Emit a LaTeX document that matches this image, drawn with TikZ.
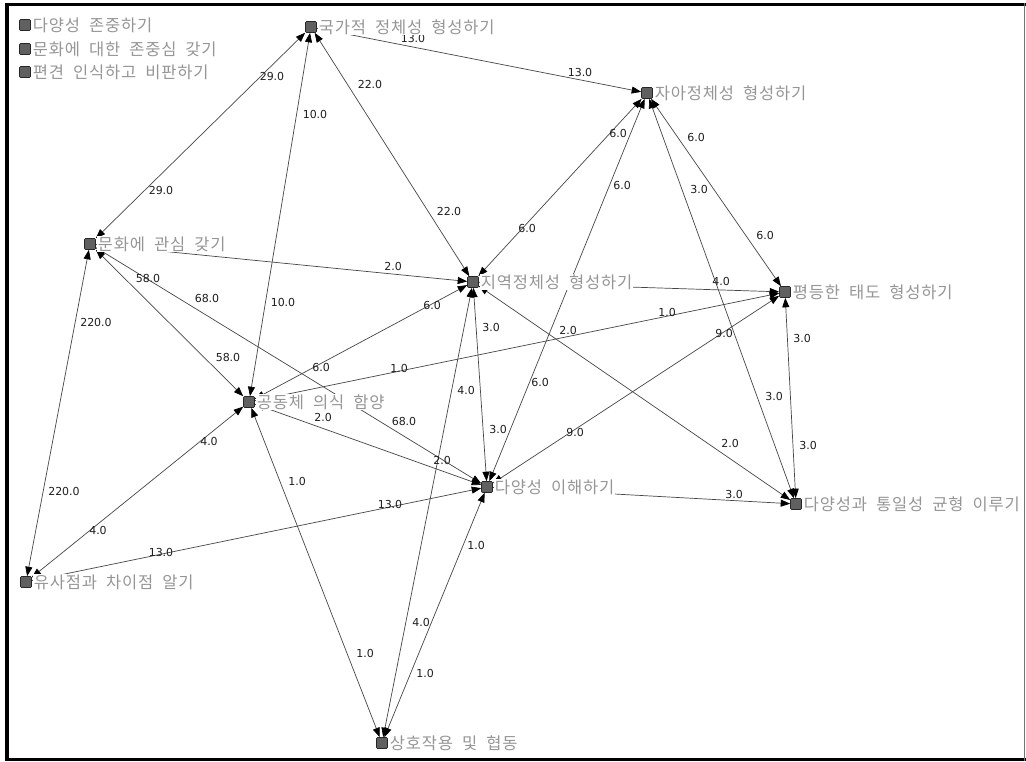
\documentclass[tikz,border=0pt]{standalone}
\usepackage{fontspec}
\usetikzlibrary{arrows.meta}
\newfontfamily\krfont[LetterSpace=5,WordSpace=2]{Noto Sans CJK KR}
\newfontfamily\numfont{DejaVu Sans}
\definecolor{sqgray}{RGB}{96,96,96}
\definecolor{labgray}{RGB}{150,150,150}
\definecolor{edgecol}{RGB}{70,70,70}
\definecolor{elabcol}{RGB}{30,30,30}
\tikzset{
  sq/.style={draw=black!85, fill=sqgray, minimum size=11pt, inner sep=0pt, rounded corners=1pt, line width=0.6pt},
  nlab/.style={font=\krfont\fontsize{16.5}{16.5}\selectfont, text=labgray, fill=white, inner sep=0.6pt, anchor=west, xshift=1.2pt},
  elab/.style={font=\numfont\fontsize{11}{11}\selectfont, text=elabcol, inner sep=0pt},
  link/.style={draw=edgecol, line width=0.7pt, arrows={Triangle[length=9.5pt,width=7pt,color=black]-Triangle[length=9.5pt,width=7pt,color=black]}},
}
\begin{document}
\begin{tikzpicture}[x=1pt,y=-1pt]
\useasboundingbox (0,0) rectangle (1026,761);
\fill[white] (0,0) rectangle (1026,761);
% frame
\fill[black] (5,3) rectangle (9,761);
\fill[black] (5,3) rectangle (1026,5.5);
\fill[black] (5,757.5) rectangle (1026,761);
\fill[black!55] (1023.5,3) rectangle (1025,761);

% nodes (squares)
\node[sq] (nat) at (311,27) {};
\node[sq] (self) at (647,93) {};
\node[sq] (cul) at (90,244) {};
\node[sq] (reg) at (473,282) {};
\node[sq] (eq) at (785,292) {};
\node[sq] (com) at (249,402) {};
\node[sq] (div) at (487,487) {};
\node[sq] (bal) at (796,504) {};
\node[sq] (sim) at (26,582) {};
\node[sq] (inter) at (382,743) {};

% connectors
\draw[link] (cul) -- (nat);
\draw[link] (com) -- (nat);
\draw[link] (nat) -- (reg);
\draw[link] (nat) -- (self);
\draw[link] (reg) -- (self);
\draw[link] (div) -- (self);
\draw[link] (self) -- (eq);
\draw[link] (self) -- (bal);
\draw[link] (cul) -- (reg);
\draw[link] (cul) -- (com);
\draw[link] (cul) -- (div);
\draw[link] (cul) -- (sim);
\draw[link] (com) -- (reg);
\draw[link] (com) -- (eq);
\draw[link] (com) -- (div);
\draw[link] (com) -- (sim);
\draw[link] (com) -- (inter);
\draw[link] (reg) -- (eq);
\draw[link] (reg) -- (div);
\draw[link] (reg) -- (inter);
\draw[link] (reg) -- (bal);
\draw[link] (div) -- (eq);
\draw[link] (div) -- (bal);
\draw[link] (div) -- (sim);
\draw[link] (div) -- (inter);
\draw[link] (eq) -- (bal);

% connector labels
\node[elab] (l1a) at (272,76) {29.0};
\node[elab] (l1b) at (161,190) {29.0};
\node[elab] (l2a) at (315,114) {10.0};
\node[elab] (l2b) at (283,302) {10.0};
\node[elab] (l3a) at (370,84) {22.0};
\node[elab] (l3b) at (449,211) {22.0};
\node[elab] (l4a) at (413,38) {13.0};
\node[elab] (l4b) at (580,72) {13.0};
\node[elab] (l5a) at (618,133) {6.0};
\node[elab] (l5b) at (527,228) {6.0};
\node[elab] (l6a) at (622,185) {6.0};
\node[elab] (l6b) at (540,382) {6.0};
\node[elab] (l7a) at (696,137) {6.0};
\node[elab] (l7b) at (765,235) {6.0};
\node[elab] (l8a) at (699,189) {3.0};
\node[elab] (l8b) at (774,396) {3.0};
\node[elab] (l9) at (393,266) {2.0};
\node[elab] (l10a) at (148,278) {58.0};
\node[elab] (l10b) at (228,357) {58.0};
\node[elab] (l11a) at (207,298) {68.0};
\node[elab] (l11b) at (404,421) {68.0};
\node[elab] (l12a) at (96,322) {220.0};
\node[elab] (l12b) at (64,491) {220.0};
\node[elab] (l13a) at (321,367) {6.0};
\node[elab] (l13b) at (432,305) {6.0};
\node[elab] (l14a) at (399,368) {1.0};
\node[elab] (l14b) at (667,312) {1.0};
\node[elab] (l15a) at (323,417) {2.0};
\node[elab] (l15b) at (442,460) {2.0};
\node[elab] (l16a) at (209,441) {4.0};
\node[elab] (l16b) at (98,530) {4.0};
\node[elab] (l17a) at (297,481) {1.0};
\node[elab] (l17b) at (365,653) {1.0};
\node[elab] (l18) at (721,281) {4.0};
\node[elab] (l19a) at (491,327) {3.0};
\node[elab] (l19b) at (498,429) {3.0};
\node[elab] (l20a) at (466,390) {4.0};
\node[elab] (l20b) at (421,622) {4.0};
\node[elab] (l21a) at (568,330) {2.0};
\node[elab] (l21b) at (730,443) {2.0};
\node[elab] (l22a) at (575,432) {9.0};
\node[elab] (l22b) at (724,333) {9.0};
\node[elab] (l23) at (734,494) {3.0};
\node[elab] (l24a) at (161,552) {13.0};
\node[elab] (l24b) at (390,504) {13.0};
\node[elab] (l25a) at (476,545) {1.0};
\node[elab] (l25b) at (425,673) {1.0};
\node[elab] (l26a) at (802,338) {3.0};
\node[elab] (l26b) at (808,445) {3.0};

% node labels
\node[nlab] (tnat) at (nat.east) {국가적 정체성 형성하기};
\node[nlab] (tself) at (self.east) {자아정체성 형성하기};
\node[nlab] (tcul) at (cul.east) {문화에 관심 갖기};
\node[nlab] (treg) at (reg.east) {지역정체성 형성하기};
\node[nlab] (teq) at (eq.east) {평등한 태도 형성하기};
\node[nlab] (tcom) at (com.east) {공동체 의식 함양};
\node[nlab] (tdiv) at (div.east) {다양성 이해하기};
\node[nlab] (tbal) at (bal.east) {다양성과 통일성 균형 이루기};
\node[nlab] (tsim) at (sim.east) {유사점과 차이점 알기};
\node[nlab] (tinter) at (inter.east) {상호작용 및 협동};

% legend
\node[sq] (lg1) at (25,25) {};
\node[sq] (lg2) at (25,49) {};
\node[sq] (lg3) at (25,72) {};
\node[nlab] (tlg1) at (lg1.east) {다양성 존중하기};
\node[nlab] (tlg2) at (lg2.east) {문화에 대한 존중심 갖기};
\node[nlab] (tlg3) at (lg3.east) {편견 인식하고 비판하기};
\end{tikzpicture}
\end{document}
